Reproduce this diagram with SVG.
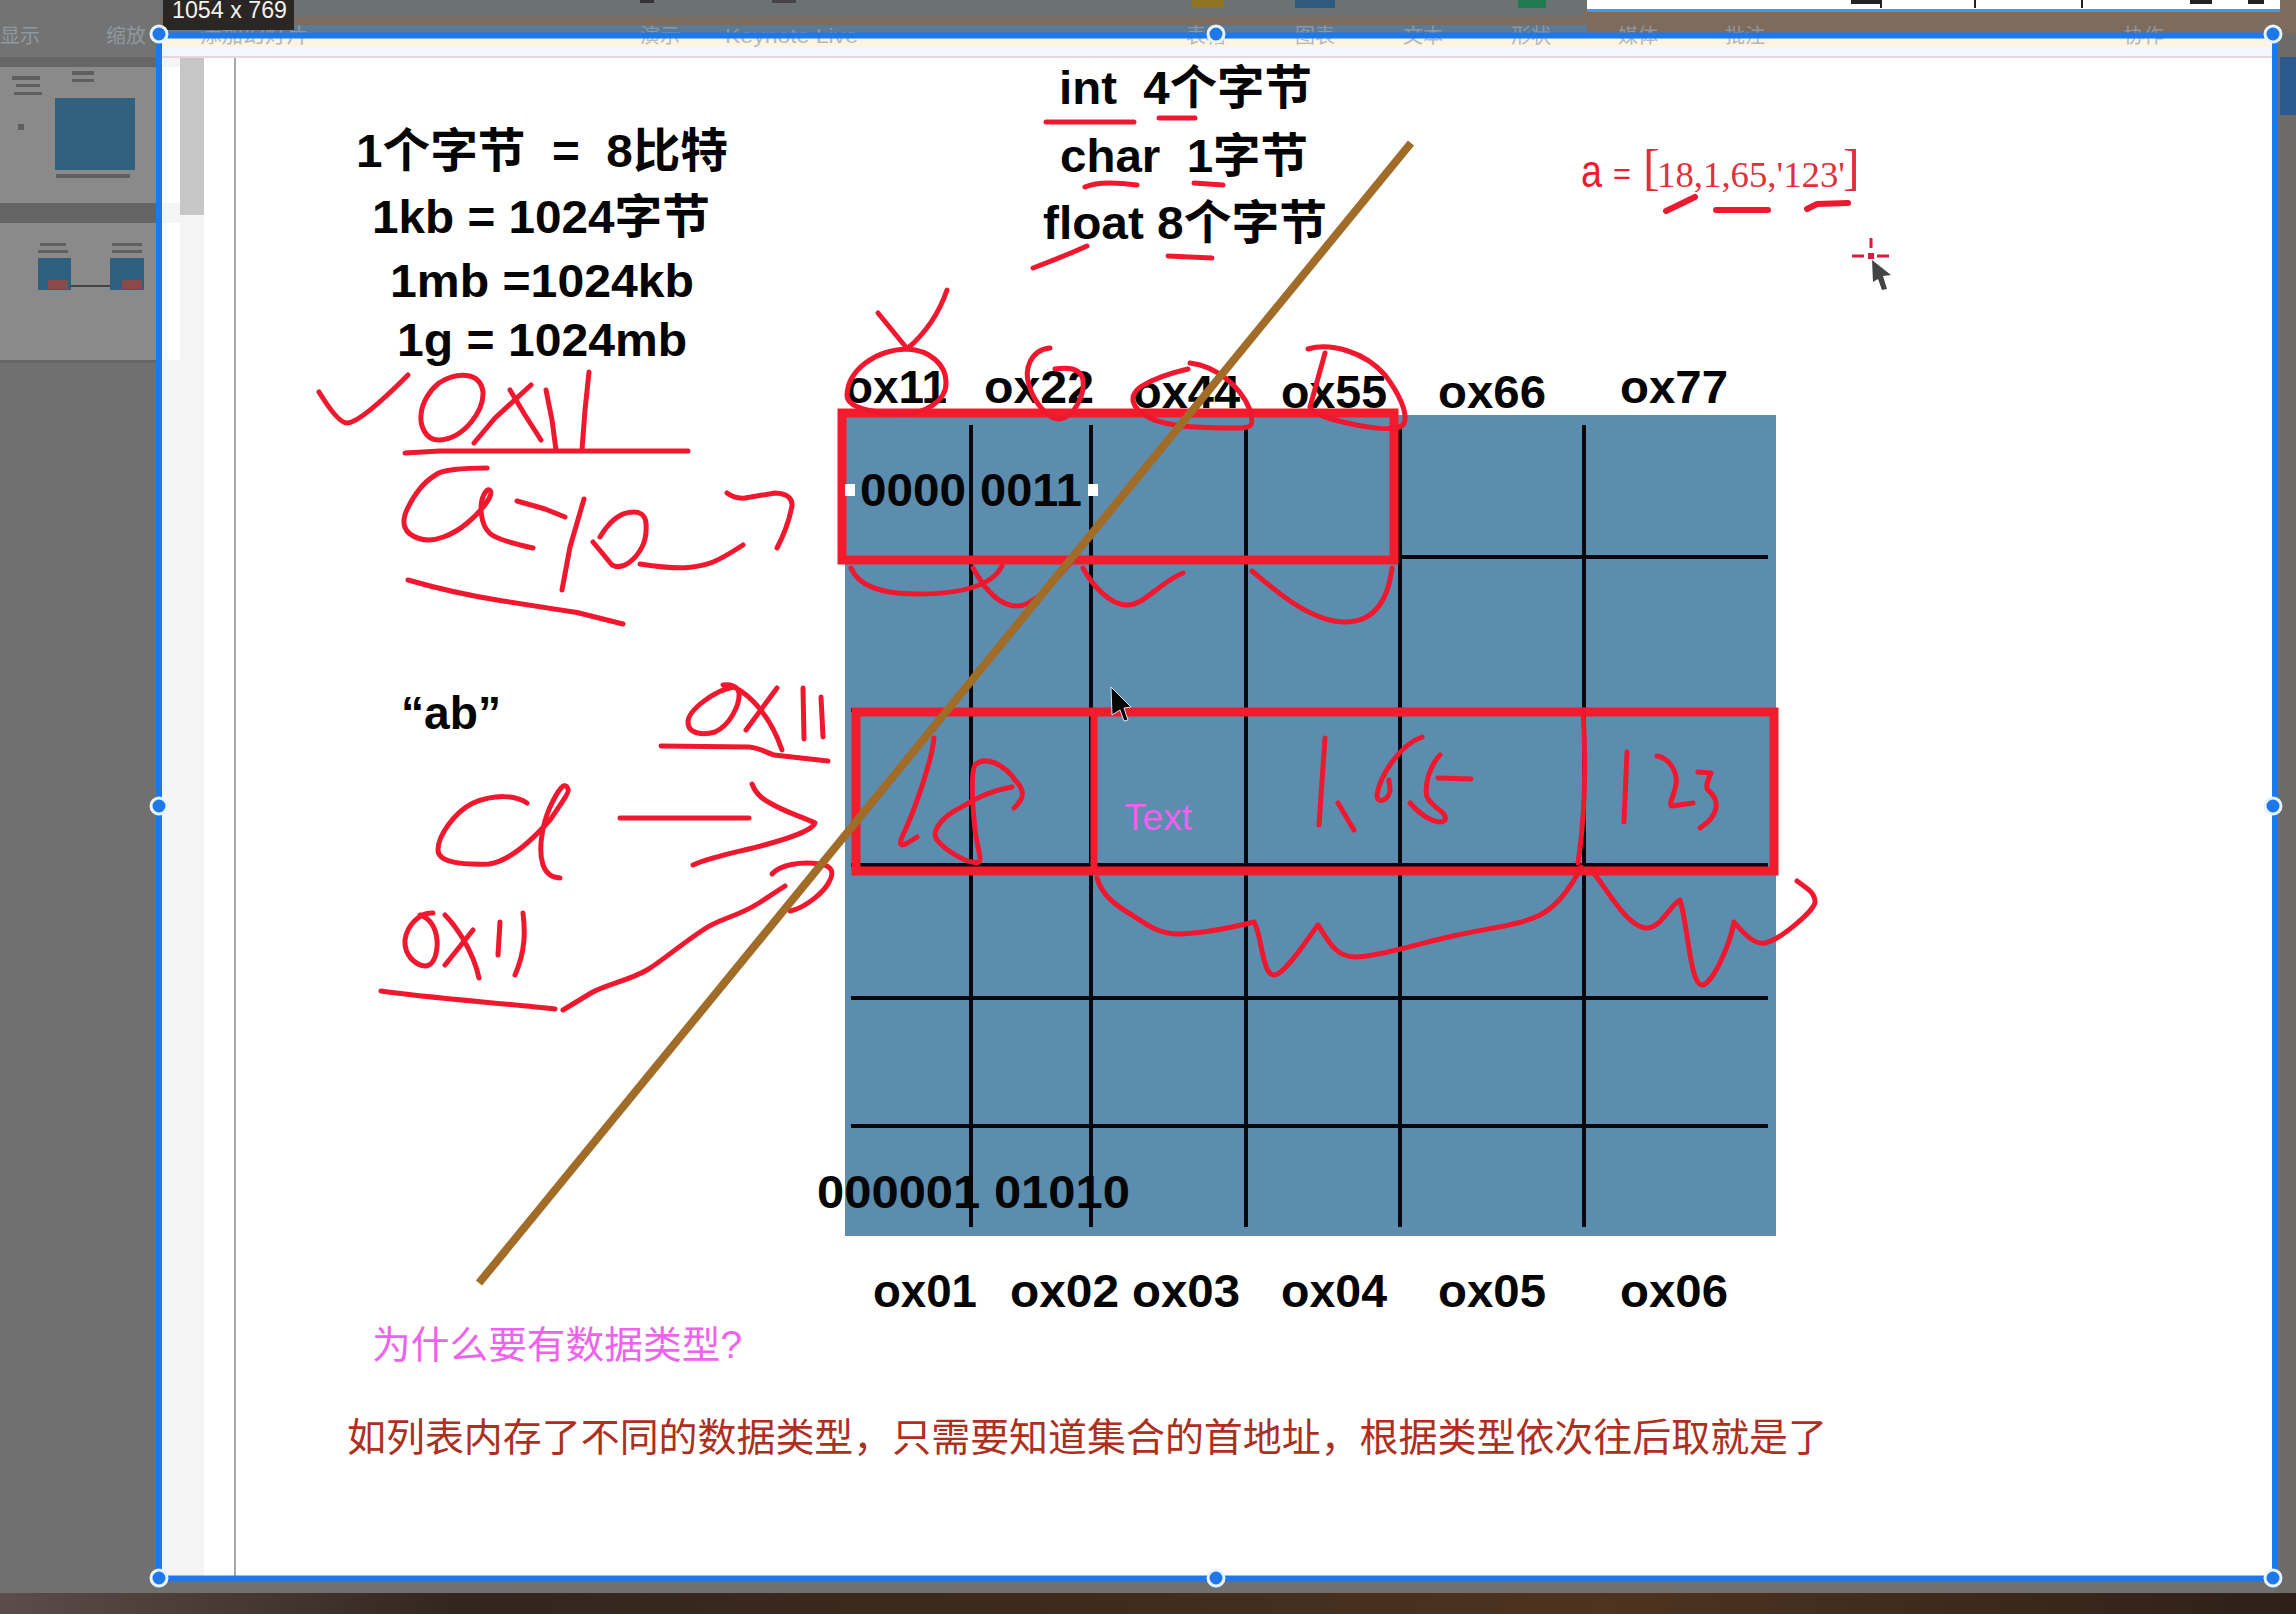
<svg xmlns="http://www.w3.org/2000/svg" width="2296" height="1614" viewBox="0 0 2296 1614">
<style>
text{font-family:"Liberation Sans","Noto Sans CJK SC",sans-serif;white-space:pre}
.b{font-weight:bold;font-size:47px;fill:#050505}
.l{font-size:20px;fill:#9aa3ab;opacity:.75}
.g{stroke:#05080c;stroke-width:4;fill:none}
.r{stroke:#f31c2c;stroke-width:9;fill:none}
.i{stroke:#f0182e;stroke-width:5;fill:none;stroke-linecap:round;stroke-linejoin:round}
.h{fill:#1f78ea;stroke:#e6f4ff;stroke-width:3}
.t{fill:#5f5f5f}
</style>
<defs><linearGradient id="ph" x1="0" x2="1" y1="0" y2="0"><stop offset="0" stop-color="#5c4c4a"/><stop offset=".2" stop-color="#33261e"/><stop offset=".45" stop-color="#3d2a1c"/><stop offset=".7" stop-color="#4d3420"/><stop offset="1" stop-color="#2e2018"/></linearGradient></defs>

<g id="backdrop">
<rect width="2296" height="1614" fill="#707070"/>
<rect x="160" width="2136" height="17" fill="#6c7274"/>
<rect x="160" y="17" width="2136" height="8" fill="#7c6c60"/>
<rect x="160" y="25" width="2136" height="8" fill="#5d7a94"/>
<rect x="1587" width="709" height="33" fill="#7d6b5e"/>
<rect y="0" width="160" height="57" fill="#737373"/>
<rect y="57" width="160" height="10" fill="#666"/>
<rect y="67" width="160" height="136" fill="#8a8a8a"/>
<rect y="203" width="160" height="20" fill="#656565"/>
<rect y="223" width="160" height="137" fill="#8a8a8a"/>
<rect y="360" width="160" height="3" fill="#666"/>
<rect x="2279" y="33" width="17" height="1560" fill="#6d6a68"/>
<rect x="2280" y="57" width="16" height="58" fill="#2c5a8e"/>
<rect y="1593" width="2296" height="21" fill="url(#ph)"/>
<rect x="1587" width="693" height="9" fill="#fff"/>
<rect x="1587" y="9" width="693" height="3" fill="#3a9cee"/>
<rect x="1192" width="32" height="8" fill="#8c7420"/>
<rect x="1295" width="40" height="8" fill="#2f5a80"/>
<rect x="1518" width="28" height="8" fill="#1f7a50"/>
<rect x="640" width="14" height="3" fill="#333"/><rect x="772" width="24" height="3" fill="#444"/>
<rect x="1851" width="30" height="4" fill="#222"/><rect x="2190" width="22" height="4" fill="#222"/><rect x="2248" width="16" height="4" fill="#222"/>
<rect x="1880" width="2" height="8" fill="#222"/><rect x="1974" width="2" height="8" fill="#222"/><rect x="2081" width="2" height="8" fill="#222"/>
</g>

<g id="slide">
<rect x="162" y="38" width="2110" height="1540" fill="#fff"/>
<rect x="162" y="38" width="2110" height="9" fill="#fff3e2"/>
<rect x="162" y="47" width="2110" height="9" fill="#f0f7ff"/>
<rect x="162" y="56" width="2110" height="2" fill="#ecd2da"/>
<rect x="162" y="58" width="42" height="1520" fill="#f5f5f5"/>
<rect x="180" y="58" width="24" height="157" fill="#c6c6c6"/>
<rect x="162" y="67" width="18" height="136" fill="#fff"/>
<rect x="162" y="223" width="18" height="137" fill="#fff"/>
<rect x="234" y="58" width="2" height="1520" fill="#a9a9a9"/>
</g>

<g id="thumbs">
<rect x="55" y="98" width="80" height="72" fill="#32607f"/>
<rect class="t" x="12" y="76" width="28" height="4"/><rect class="t" x="16" y="84" width="24" height="3"/><rect class="t" x="14" y="92" width="28" height="3"/>
<rect class="t" x="72" y="71" width="22" height="4"/><rect class="t" x="72" y="79" width="22" height="3"/>
<rect class="t" x="18" y="124" width="6" height="6"/><rect class="t" x="56" y="174" width="74" height="4"/>
<rect x="38" y="258" width="33" height="32" fill="#2f5f7f"/><rect x="110" y="258" width="34" height="32" fill="#2f5f7f"/>
<rect x="48" y="280" width="20" height="9" fill="#8a4a4a"/><rect x="122" y="280" width="20" height="9" fill="#8a4a4a"/>
<rect x="71" y="285" width="39" height="2" fill="#444"/>
<rect class="t" x="40" y="243" width="26" height="3"/><rect class="t" x="112" y="243" width="30" height="3"/><rect class="t" x="38" y="250" width="30" height="3"/><rect class="t" x="112" y="250" width="30" height="3"/>
</g>

<g id="toolbar-labels">
<text class="l" x="0" y="43">显示</text>
<text class="l" x="106" y="43">缩放</text>
<text class="l" x="200" y="43" textLength="108" lengthAdjust="spacingAndGlyphs">添加幻灯片</text>
<text class="l" x="640" y="43">演示</text>
<text class="l" x="725" y="43" textLength="133" lengthAdjust="spacingAndGlyphs">Keynote Live</text>
<text class="l" x="1186" y="43">表格</text>
<text class="l" x="1295" y="43">图表</text>
<text class="l" x="1403" y="43">文本</text>
<text class="l" x="1511" y="43">形状</text>
<text class="l" x="1618" y="43">媒体</text>
<text class="l" x="1725" y="43">批注</text>
<text class="l" x="2124" y="43">协作</text>
</g>

<g id="memory-grid">
<rect x="845" y="415" width="931" height="821" fill="#5c8cae"/>
<path class="g" d="M971 425V1227M1091 425V1227M1246 425V1227M1400 425V1227M1584 425V1227"/>
<path class="g" d="M1400 557H1768M851 710H1768M851 865H1768M851 998H1768M851 1126H1768"/>
</g>

<g id="labels">
<text class="b" x="356" y="167" textLength="372" lengthAdjust="spacingAndGlyphs">1个字节  =  8比特</text>
<text class="b" x="372" y="233" textLength="338" lengthAdjust="spacingAndGlyphs">1kb = 1024字节</text>
<text class="b" x="390" y="297" textLength="304" lengthAdjust="spacingAndGlyphs">1mb =1024kb</text>
<text class="b" x="397" y="356" textLength="290" lengthAdjust="spacingAndGlyphs">1g = 1024mb</text>
<text class="b" x="1059" y="104" textLength="253" lengthAdjust="spacingAndGlyphs">int  4个字节</text>
<text class="b" x="1060" y="172" textLength="248" lengthAdjust="spacingAndGlyphs">char  1字节</text>
<text class="b" x="1043" y="239" textLength="284" lengthAdjust="spacingAndGlyphs">float 8个字节</text>
<text class="b" x="845" y="403" textLength="102" lengthAdjust="spacingAndGlyphs">ox11</text>
<text class="b" x="984" y="403" textLength="110" lengthAdjust="spacingAndGlyphs">ox22</text>
<text class="b" x="1133" y="408" textLength="107" lengthAdjust="spacingAndGlyphs">ox44</text>
<text class="b" x="1281" y="408" textLength="106" lengthAdjust="spacingAndGlyphs">ox55</text>
<text class="b" x="1438" y="408" textLength="108" lengthAdjust="spacingAndGlyphs">ox66</text>
<text class="b" x="1620" y="403" textLength="108" lengthAdjust="spacingAndGlyphs">ox77</text>
<text class="b" x="860" y="506" textLength="106" lengthAdjust="spacingAndGlyphs">0000</text>
<text class="b" x="980" y="506" textLength="102" lengthAdjust="spacingAndGlyphs">0011</text>
<text class="b" x="401" y="729" textLength="100" lengthAdjust="spacingAndGlyphs">“ab”</text>
<text class="b" x="817" y="1208" textLength="313" lengthAdjust="spacingAndGlyphs">000001 01010</text>
<text class="b" x="873" y="1307" textLength="104" lengthAdjust="spacingAndGlyphs">ox01</text>
<text class="b" x="1010" y="1307" textLength="109" lengthAdjust="spacingAndGlyphs">ox02</text>
<text class="b" x="1132" y="1307" textLength="108" lengthAdjust="spacingAndGlyphs">ox03</text>
<text class="b" x="1281" y="1307" textLength="106" lengthAdjust="spacingAndGlyphs">ox04</text>
<text class="b" x="1438" y="1307" textLength="108" lengthAdjust="spacingAndGlyphs">ox05</text>
<text class="b" x="1620" y="1307" textLength="108" lengthAdjust="spacingAndGlyphs">ox06</text>
<text x="372" y="1358" font-size="38" fill="#ee62ee" textLength="370" lengthAdjust="spacingAndGlyphs">为什么要有数据类型?</text>
<text x="347" y="1451" font-size="39" fill="#ad2f1e" textLength="1480" lengthAdjust="spacingAndGlyphs">如列表内存了不同的数据类型，只需要知道集合的首地址，根据类型依次往后取就是了</text>
<text x="1124" y="830" font-size="37" fill="#ee62ee" textLength="68" lengthAdjust="spacingAndGlyphs">Text</text>
<text x="1581" y="187" font-size="46" fill="#ee1a30" textLength="21" lengthAdjust="spacingAndGlyphs">a</text>
<text x="1613" y="184" font-size="30" fill="#ee1a30" textLength="18" lengthAdjust="spacingAndGlyphs">=</text>
<g fill="#e0303c" style="font-family:'Liberation Serif',serif">
<text x="1643" y="184" font-size="50" fill="#e0303c" style="font-family:'Liberation Serif',serif">[</text>
<text x="1657" y="187" font-size="36" fill="#e0303c" style="font-family:'Liberation Serif',serif" textLength="188" lengthAdjust="spacingAndGlyphs">18,1,65,'123'</text>
<text x="1843" y="184" font-size="50" fill="#e0303c" style="font-family:'Liberation Serif',serif">]</text>
</g>
</g>

<g id="red-boxes">
<path class="r" d="M842 413H1394V560H842Z"/>
<path class="r" d="M856 712H1774V871H856Z"/>
<path class="r" d="M1094 712V871" style="stroke-width:7"/>
<path class="i" d="M1583 710C1586 760 1586 810 1578 863"/>
</g>

<g id="handwriting">
<path class="i" d="M319 392C330 410 340 423 347 423C358 423 385 398 408 375"/>
<path class="i" d="M439 383C455 373 480 370 483 392C484 410 465 438 440 440C425 441 420 425 421 415C422 402 430 390 439 383M474 443L495 418L531 385M510 390L525 415L541 440M546 390L552 420L556 450M589 372L585 410L582 450M405 453L440 451H688"/>
<path class="i" d="M487 468Q447 468 437 474Q427 480 420 488.500Q413 497 407.500 508.500Q402 520 405 527.500Q408 535 419 538.500Q430 542 443.500 537Q457 532 468.500 522Q480 512 486.500 502.500Q493 493 490 490.500Q487 488 483.500 495.500Q480 503 481.500 515Q483 527 490 533.500Q497 540 533 548"/>
<path class="i" d="M517 501L545 509L565 517M584 499L570 547L562 590M600 537Q613 515 629 512.500Q645 510 646 523.500Q647 537 642 547Q637 557 628.500 563Q620 569 612 565L593 542M640 564Q673 569 688 567.500Q703 566 713 562Q723 558 743 545M727 493Q735 499 745 498L775 493Q793 494 792 506Q788 527 777 548M408 580Q453 593 500 600.500Q547 608 577 612.500L623 624"/>
<path class="i" d="M1046 122H1134M1159 118H1195M1085 187Q1100 180 1137 185M1194 183L1223 185M1033 268Q1060 258 1087 246M1168 256L1212 258"/>
<path class="i" d="M878 313L905 346M947 290Q935 325 907 349M907 349C875 350 848 370 847 395C847 408 870 412 900 414C925 415 947 400 946 382C946 365 930 350 907 349"/>
<path class="i" d="M1050 348C1030 350 1024 370 1029 385C1034 402 1048 420 1060 419C1074 417 1085 395 1083 380C1081 368 1068 367 1055 369"/>
<path class="i" d="M1190 363C1215 366 1240 385 1250 410C1254 425 1252 428 1240 428C1210 428 1170 428 1150 418C1130 408 1128 395 1142 386C1155 378 1175 372 1188 369"/>
<path class="i" d="M1308 349C1330 342 1365 352 1385 375C1398 392 1410 415 1403 425C1395 432 1365 428 1335 420C1320 416 1312 412 1310 407M1325 353L1310 407"/>
<path class="i" d="M851 568C860 590 890 594 917 594C950 594 990 590 1002 566M973 568C985 590 1000 606 1017 606C1035 606 1055 580 1073 560M1083 568C1092 585 1110 605 1127 605C1145 605 1160 582 1183 573M1252 571C1275 590 1310 622 1345 622C1375 622 1388 600 1392 568"/>
<path class="i" d="M734 687C715 690 688 710 688 722C688 735 705 735 715 732C730 725 740 705 739 693C738 686 730 684 723 685M746 730L777 688M734 687C750 695 770 715 782 750M803 688L804 739M821 697L823 737M661 746L749 747C760 748 765 752 774 755L828 761"/>
<path class="i" d="M527 803C515 795 495 794 473 803C455 812 438 835 438 850C438 862 460 865 489 864C505 862 525 848 550 820C560 805 570 792 568 789C565 780 558 790 550 807C542 825 538 850 543 865C547 875 552 877 560 878M620 818H749M752 784C755 792 760 798 770 803C785 812 805 818 815 823C812 830 795 836 775 842C750 850 715 855 693 865"/>
<path class="i" d="M772 874C780 865 800 861 820 864C832 866 834 872 830 880C825 892 805 908 790 911"/>
<path class="i" d="M433 913C420 912 407 925 405 940C404 955 415 965 425 966C435 966 438 950 437 940C436 928 430 918 420 915M445 965L473 930M445 915C455 925 473 950 479 978M500 922L498 955M523 913C525 930 526 950 515 975M381 991C420 997 500 1003 555 1009M563 1010L591 993C605 985 630 980 647 970C662 961 680 945 703 930C720 918 735 918 759 903L785 886"/>
<path class="i" d="M934 738C932 760 915 810 902 837C897 850 905 845 917 837M1014 808C1025 798 1025 790 1015 780C1005 765 985 755 975 765C970 775 973 810 975 830C978 850 982 860 979 862C968 865 945 850 937 840C930 830 945 815 960 808C975 798 995 790 1012 787"/>
<path class="i" d="M1325 738L1319 825M1338 803L1354 830M1422 737C1400 745 1380 775 1377 795C1377 805 1389 800 1390 790L1389 780M1440 755C1430 765 1424 785 1427 797C1432 808 1448 812 1445 820C1440 825 1425 820 1410 803M1438 778L1471 779"/>
<path class="i" d="M1627 752L1624 822M1657 756C1668 758 1678 770 1676 785C1674 795 1668 805 1672 806L1693 803M1698 772L1711 773C1708 780 1705 787 1708 790C1720 800 1720 815 1700 828"/>
<path class="i" d="M1097 878C1102 895 1115 905 1132 915C1150 927 1160 934 1180 934C1205 933 1230 928 1254 922C1262 935 1262 975 1274 975C1285 975 1310 935 1318 925C1328 940 1335 957 1355 957C1380 957 1430 940 1458 935C1490 928 1520 925 1540 915C1560 905 1575 880 1581 867"/>
<path class="i" d="M1591 870C1605 885 1625 925 1645 928C1660 930 1670 905 1680 900C1688 925 1690 985 1702 985C1712 985 1730 945 1734 922C1745 935 1755 945 1765 943C1780 940 1815 910 1815 902C1815 892 1805 887 1797 881"/>
<path class="i" d="M1666 211L1695 197M1716 210H1768M1807 209L1817 204L1848 203" style="stroke-width:6"/>
</g>

<g id="brown-line"><path d="M1411 143L479 1283" stroke="#a06c28" stroke-width="8" fill="none"/></g>

<g id="cursors">
<path d="M1871 238V248M1852 256H1864M1877 256H1889" stroke="#d81c40" stroke-width="3" fill="none"/>
<rect x="1868" y="253" width="6" height="6" fill="#d81c40"/>
<path d="M1872 260L1891 275L1883 276L1887 289L1882 290L1878 279L1873 282Z" fill="#444"/>
<path d="M1111 687L1131 707L1124 708L1128 720L1124 721L1120 710L1112 715Z" fill="#080808" stroke="#d8e4ec" stroke-width="1"/>
<rect x="845" y="484" width="10" height="12" fill="#fff"/>
<rect x="1088" y="484" width="10" height="12" fill="#fff"/>
</g>

<g id="selection">
<rect x="159" y="35.500" width="2116" height="1543" fill="none" stroke="#1f78ea" stroke-width="6"/>
<rect x="163" width="131" height="30" fill="#2a2623"/>
<text x="172" y="18" font-size="24" fill="#f2f2f2" textLength="115" lengthAdjust="spacingAndGlyphs">1054 x 769</text>
<circle class="h" cx="159" cy="34" r="8"/><circle class="h" cx="1216" cy="34" r="8"/><circle class="h" cx="2273" cy="34" r="8"/>
<circle class="h" cx="159" cy="806" r="8"/><circle class="h" cx="2273" cy="806" r="8"/>
<circle class="h" cx="159" cy="1578" r="8"/><circle class="h" cx="1216" cy="1578" r="8"/><circle class="h" cx="2273" cy="1578" r="8"/>
</g>
</svg>
